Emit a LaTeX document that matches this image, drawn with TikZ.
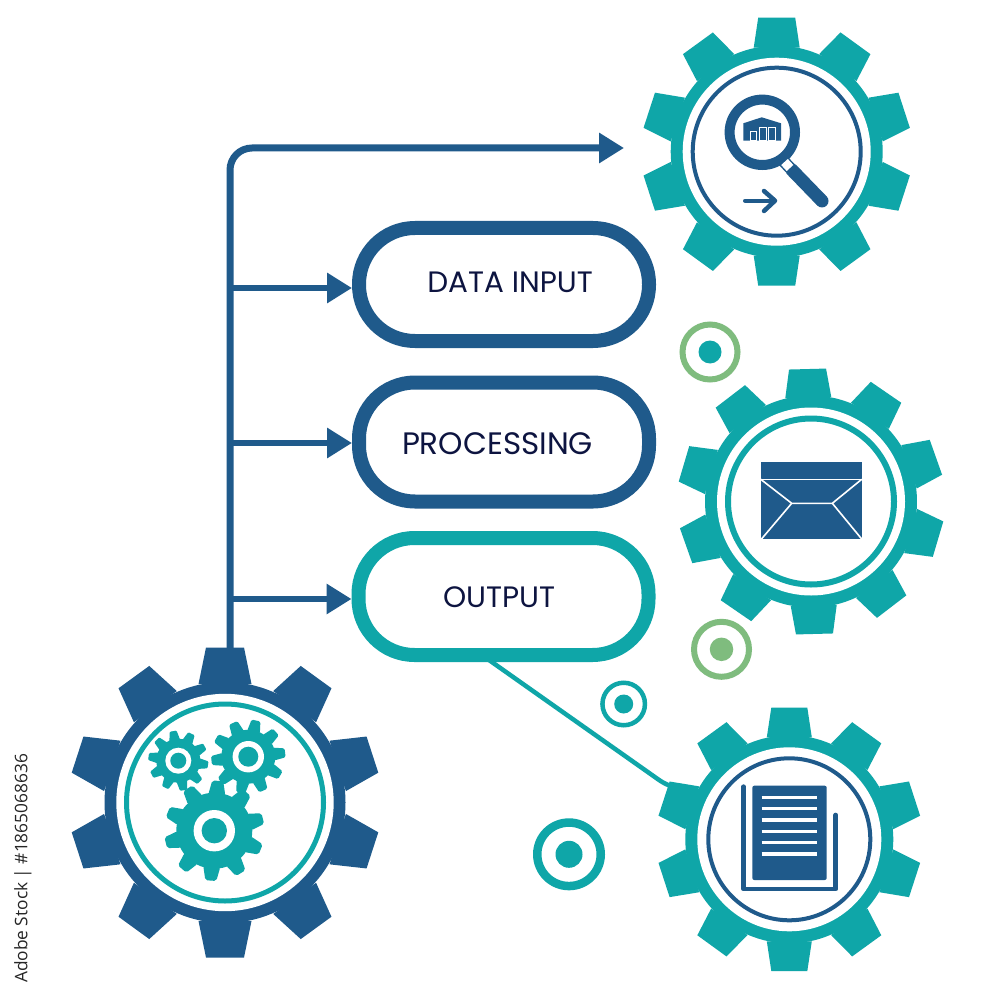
\documentclass[tikz,border=0pt]{standalone}
\usepackage{fontspec}
\setmainfont{Poppins}
\newfontfamily\stockfont{Open Sans}
\usetikzlibrary{arrows.meta,calc}
\definecolor{tealc}{HTML}{0FA6A8}
\definecolor{bluec}{HTML}{1F5A8B}
\definecolor{greenc}{HTML}{7FBC7E}
\definecolor{inkc}{HTML}{0D1440}
\tikzset{
  gearhub/.style={circle,inner sep=0pt,minimum size=2pt},
  pill/.style={draw=#1,line width=14pt,rectangle,rounded corners=56pt,minimum width=290pt,inner sep=0pt},
  pilltext/.style={text=inkc,inner sep=0pt},
  link/.style={draw=bluec,line width=6.5pt},
  tiplink/.style={-{Triangle[length=25pt,width=29pt]}},
  ringdot/.style={fill=#1,draw=none},
  iconline/.style={draw=white,line width=1.6pt},
}
% #1 name, #2 x, #3 y, #4 outer R, #5 body R, #6 tip half width, #7 base half width, #8 rotation, #9 colour
\newcommand{\gearat}[9]{%
  \node[gearhub] (#1) at (#2,#3) {};
  \begin{scope}[shift={(#2,#3)},rotate=#8]
    \fill[#9] (0,0) circle[radius=#5];
    \foreach \k in {0,...,9}{
      \fill[#9,rotate=36*\k] (-#7,-#5+2) -- (-#6,-#4) -- (#6,-#4) -- (#7,-#5+2) -- cycle;
    }
  \end{scope}}
\begin{document}
\begin{tikzpicture}[x=1pt,y=-1pt]
\useasboundingbox (0,0) rectangle (1000,1000);
\fill[white] (0,0) rectangle (1000,1000);

% named points
\coordinate (stem) at (230,652);
\coordinate (topend) at (624,148);
\coordinate (branchA) at (230,288);
\coordinate (branchB) at (230,443);
\coordinate (branchC) at (230,599);
\coordinate (outstart) at (489,660);
\coordinate (outbend) at (669,787);
\coordinate (outend) at (700,793);

% pills
\node[pill=bluec,minimum height=113pt] (pillA) at (504,284.5) {};
\node[pill=bluec,minimum height=119pt] (pillB) at (504,442) {};
\node[pill=tealc,minimum height=117pt] (pillC) at (503.5,596.5) {};
\node[pilltext,font=\fontsize{29.5}{30}\selectfont] (textA) at (510,282) {DATA INPUT};
\node[pilltext,font=\fontsize{31}{31}\selectfont] (textB) at (497.5,444) {PROCESSING};
\node[pilltext,font=\fontsize{29.5}{30}\selectfont] (textC) at (499,597) {OUTPUT};

% connectors
\draw[link,line width=7pt,rounded corners=22pt,tiplink] (stem) |- (topend);
\draw[link,tiplink] (branchA) -- (pillA.west |- branchA);
\draw[link,tiplink] (branchB) -- (pillB.west |- branchB);
\draw[link,tiplink] (branchC) -- (pillC.west |- branchC);
\draw[tealc,line width=4.5pt,rounded corners=12pt] (outstart) -- (outbend) -- (outend);

% bullets
\node[circle,draw=greenc,line width=6pt,minimum size=55pt,inner sep=0pt] (ringA) at (710,352) {};
\node[circle,ringdot=tealc,minimum size=23pt,inner sep=0pt] (dotA) at (710,352) {};
\node[circle,draw=greenc,line width=6pt,minimum size=55pt,inner sep=0pt] (ringB) at (721.5,649.3) {};
\node[circle,ringdot=greenc,minimum size=23.5pt,inner sep=0pt] (dotB) at (721.5,649.3) {};
\node[circle,draw=tealc,line width=4.5pt,minimum size=42.5pt,inner sep=0pt] (ringC) at (623.7,704) {};
\node[circle,ringdot=tealc,minimum size=19pt,inner sep=0pt] (dotC) at (623.7,704) {};
\node[circle,draw=tealc,line width=8.5pt,minimum size=63.5pt,inner sep=0pt] (ringD) at (569,854.3) {};
\node[circle,ringdot=tealc,minimum size=27pt,inner sep=0pt] (dotD) at (569,854.3) {};

% main gears
\gearat{gearA}{225}{802.5}{155}{120.5}{19}{26.5}{0}{bluec}
\fill[white] (gearA) circle[radius=108.7];
\draw[tealc,line width=5pt] (gearA) circle[radius=98.5];

\gearat{gearB}{776.7}{151.7}{134}{106}{18.5}{23}{0}{tealc}
\fill[white] (gearB) circle[radius=94];
\draw[bluec,line width=4pt] (gearB) circle[radius=84];

\gearat{gearC}{811}{501.5}{132.5}{106}{18.5}{23}{1.5}{tealc}
\fill[white] (gearC) circle[radius=94];
\draw[tealc,line width=6pt] (gearC) circle[radius=83];

\gearat{gearD}{789.3}{839.3}{131.7}{104}{18}{22.5}{0}{tealc}
\fill[white] (gearD) circle[radius=92];
\draw[bluec,line width=4pt] (gearD) circle[radius=81];

% small gears inside gearA
\gearat{smallA}{214.3}{830.7}{50}{38}{5.5}{8.5}{-4}{tealc,rounded corners=2pt}
\fill[white] (smallA) circle[radius=20.7];
\fill[tealc] (smallA) circle[radius=12.7];
\gearat{smallB}{248.3}{756.7}{37}{27}{4.5}{6.5}{-12}{tealc,rounded corners=1.5pt}
\fill[white] (smallB) circle[radius=15.7];
\fill[tealc] (smallB) circle[radius=10];
\gearat{smallC}{178.3}{760.7}{30}{22}{3.5}{5.5}{10}{tealc,rounded corners=1pt}
\fill[white] (smallC) circle[radius=13];
\fill[tealc] (smallC) circle[radius=8];

% magnifier icon
\draw[bluec,line width=10pt] (762.3,132.3) circle[radius=32.7];
\fill[bluec] (743.3,123.3) -- (761.7,117.3) -- (781,123.3) -- (781,140.7) -- (743.3,140.7) -- cycle;
\draw[white,line width=1pt,fill=bluec] (750.7,140.7) rectangle (756.7,131.7);
\draw[white,line width=1pt,fill=bluec] (759.3,140.7) rectangle (766.7,127.3);
\draw[white,line width=1pt,fill=bluec] (768.3,140.7) rectangle (775,127.3);
\draw[bluec,line width=12pt] (781,158.5) -- (792,170);
\draw[white,line width=9pt] (784.5,162) -- (790,168);
\draw[bluec,line width=13pt] (791,169) -- (822,201);
\fill[bluec] (822,201) circle[radius=6.5];
\draw[bluec,line width=4pt,line cap=round] (745,200.7) -- (773,200.7);
\draw[bluec,line width=4.5pt,line cap=round,line join=round] (764,191) -- (775,200.7) -- (764,211);

% envelope icon
\fill[bluec] (760.7,461.7) rectangle (861.7,539);
\draw[iconline] (760.7,479.3) -- (861.7,479.3);
\draw[iconline] (760.7,479.3) -- (791.7,503.3) -- (832.3,503.3) -- (861.7,479.3);
\draw[iconline] (791.7,503.3) -- (761.5,539);
\draw[iconline] (832.3,503.3) -- (861.7,539);

% document icon
\fill[bluec,rounded corners=2pt] (752.3,785.7) rectangle (826.7,880);
\foreach \yy in {797.3,808.7,820,831.3,842.7,854}{
  \draw[white,line width=3.3pt] (761.7,\yy) -- (817.3,\yy);
}
\draw[bluec,line width=4.7pt,line cap=round,line join=round] (743.7,786.7) -- (743.7,889) -- (835.7,889) -- (835.7,815);

% stock label
\node[rotate=90,anchor=west,inner sep=0pt,text=black!85,font=\stockfont\fontsize{17.3}{18}\selectfont] (stock) at (23,983) {Adobe Stock | \#1865068636};
\end{tikzpicture}
\end{document}
